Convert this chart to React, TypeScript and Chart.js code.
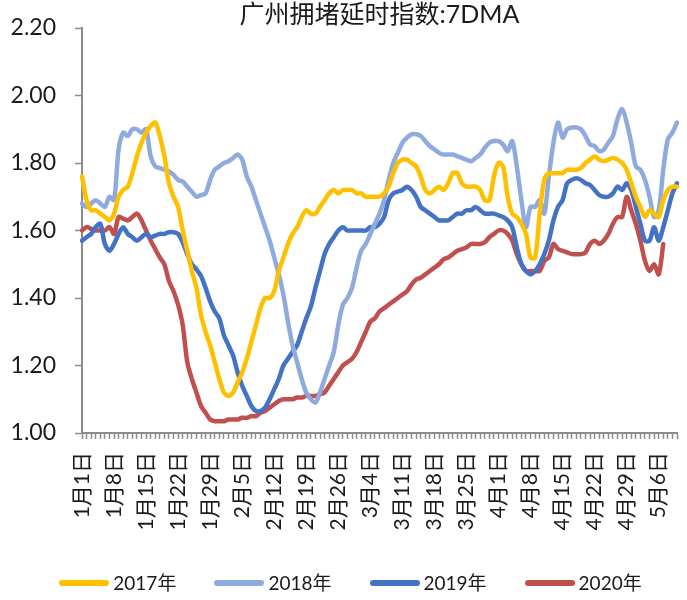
import React, { useEffect, useRef } from "react";
import { Chart, registerables } from "chart.js";

Chart.register(...registerables);

const TITLE = "广州拥堵延时指数:7DMA";
const MONTHS = [1, 2, 3, 4, 5];
const MONTH_LENGTHS = [31, 29, 31, 30, 10];
const SERIES_NAMES = ["2017年", "2018年", "2019年", "2020年"];
const SERIES_COLORS = ["#FFC000", "#8FAADC", "#4472C4", "#C0504D"];
const Y_TICKS = [1.0, 1.2, 1.4, 1.6, 1.8, 2.0, 2.2];

const categories: string[] = [];
MONTHS.forEach((m, k) => {
  for (let d = 1; d <= MONTH_LENGTHS[k]; d++) categories.push(`${m}月${d}日`);
});

const y2017 = [
  1.76, 1.69, 1.66, 1.66, 1.65, 1.64, 1.63, 1.65, 1.70, 1.72,
  1.73, 1.77, 1.82, 1.86, 1.89, 1.91, 1.92, 1.88, 1.82, 1.74,
  1.70, 1.67, 1.60, 1.54, 1.48, 1.43, 1.35, 1.30, 1.26, 1.21,
  1.16, 1.12, 1.11, 1.12, 1.15, 1.18, 1.22, 1.27, 1.32, 1.37,
  1.40, 1.40, 1.42, 1.48, 1.52, 1.56, 1.59, 1.61, 1.64, 1.66,
  1.65, 1.65, 1.67, 1.69, 1.71, 1.72, 1.71, 1.72, 1.72, 1.72,
  1.71, 1.71, 1.70, 1.70, 1.70, 1.70, 1.71, 1.73, 1.77, 1.80,
  1.81, 1.81, 1.80, 1.79, 1.76, 1.72, 1.71, 1.72, 1.73, 1.72,
  1.74, 1.77, 1.77, 1.74, 1.73, 1.73, 1.73, 1.72, 1.69, 1.69,
  1.76, 1.80, 1.79, 1.70, 1.65, 1.64, 1.62, 1.59, 1.52, 1.52,
  1.65, 1.75, 1.77, 1.77, 1.77, 1.77, 1.78, 1.78, 1.78, 1.785,
  1.80, 1.81, 1.82, 1.81, 1.805, 1.81, 1.815, 1.81, 1.80, 1.78,
  1.74, 1.70, 1.67, 1.64, 1.66, 1.65, 1.64, 1.69, 1.72, 1.73,
  1.73,
];

const y2018 = [
  1.68, 1.67, 1.68, 1.69, 1.68, 1.67, 1.70, 1.69, 1.84, 1.89,
  1.88, 1.90, 1.90, 1.89, 1.90, 1.82, 1.79, 1.785, 1.78, 1.775,
  1.765, 1.75, 1.745, 1.73, 1.715, 1.70, 1.705, 1.71, 1.75, 1.78,
  1.79, 1.80, 1.805, 1.815, 1.825, 1.81, 1.76, 1.73, 1.69, 1.65,
  1.61, 1.57, 1.52, 1.47, 1.41, 1.33, 1.26, 1.21, 1.16, 1.12,
  1.10, 1.09, 1.12, 1.16, 1.20, 1.24, 1.32, 1.38, 1.40, 1.43,
  1.49, 1.54, 1.56, 1.59, 1.62, 1.65, 1.69, 1.75, 1.80, 1.83,
  1.86, 1.875, 1.885, 1.885, 1.88, 1.865, 1.85, 1.84, 1.83, 1.825,
  1.825, 1.825, 1.82, 1.815, 1.81, 1.805, 1.815, 1.825, 1.845, 1.86,
  1.865, 1.865, 1.855, 1.835, 1.865, 1.79, 1.69, 1.61, 1.67, 1.67,
  1.69, 1.65, 1.76, 1.86, 1.92, 1.875, 1.90, 1.905, 1.905, 1.90,
  1.88, 1.855, 1.85, 1.835, 1.84, 1.86, 1.88, 1.93, 1.96, 1.92,
  1.86, 1.79, 1.78, 1.75, 1.70, 1.64, 1.66, 1.78, 1.87, 1.89,
  1.92,
];

const y2019 = [
  1.57, 1.58, 1.59, 1.61, 1.62, 1.56, 1.54, 1.56, 1.59, 1.61,
  1.59, 1.58, 1.57, 1.58, 1.59, 1.58, 1.585, 1.59, 1.59, 1.595,
  1.595, 1.59, 1.565, 1.53, 1.50, 1.485, 1.465, 1.43, 1.39, 1.36,
  1.34, 1.29, 1.26, 1.23, 1.18, 1.14, 1.11, 1.08, 1.065, 1.065,
  1.075, 1.10, 1.13, 1.16, 1.20, 1.22, 1.24, 1.26, 1.30, 1.34,
  1.375, 1.43, 1.48, 1.53, 1.56, 1.58, 1.60, 1.61, 1.60, 1.60,
  1.60, 1.60, 1.60, 1.61, 1.61, 1.62, 1.64, 1.69, 1.71, 1.715,
  1.72, 1.73, 1.72, 1.70, 1.67, 1.66, 1.65, 1.64, 1.63, 1.63,
  1.63, 1.64, 1.65, 1.65, 1.66, 1.66, 1.67, 1.66, 1.65, 1.65,
  1.65, 1.645, 1.64, 1.63, 1.61, 1.55, 1.50, 1.48, 1.47, 1.48,
  1.50, 1.53, 1.57, 1.63, 1.67, 1.69, 1.74, 1.75, 1.755, 1.75,
  1.74, 1.735, 1.72, 1.705, 1.70, 1.70, 1.71, 1.73, 1.72, 1.74,
  1.72, 1.67, 1.62, 1.57, 1.57, 1.61, 1.57, 1.61, 1.66, 1.71,
  1.74,
];

const y2020: (number | null)[] = [
  1.60, 1.61, 1.605, 1.60, 1.60, 1.60, 1.61, 1.59, 1.64, 1.635,
  1.63, 1.64, 1.65, 1.63, 1.60, 1.57, 1.545, 1.52, 1.50, 1.45,
  1.42, 1.38, 1.32, 1.21, 1.16, 1.12, 1.08, 1.06, 1.04, 1.035,
  1.035, 1.035, 1.04, 1.04, 1.04, 1.045, 1.045, 1.05, 1.05, 1.06,
  1.065, 1.075, 1.085, 1.095, 1.10, 1.10, 1.10, 1.105, 1.105, 1.11,
  1.11, 1.11, 1.115, 1.12, 1.14, 1.16, 1.18, 1.20, 1.21, 1.22,
  1.24, 1.27, 1.30, 1.33, 1.34, 1.36, 1.37, 1.38, 1.39, 1.40,
  1.41, 1.42, 1.44, 1.455, 1.46, 1.47, 1.48, 1.49, 1.50, 1.515,
  1.52, 1.53, 1.54, 1.545, 1.55, 1.56, 1.56, 1.56, 1.565, 1.58,
  1.59, 1.60, 1.60, 1.59, 1.57, 1.53, 1.50, 1.48, 1.48, 1.48,
  1.48, 1.51, 1.52, 1.56, 1.545, 1.54, 1.535, 1.53, 1.53, 1.53,
  1.535, 1.56, 1.57, 1.56, 1.57, 1.59, 1.62, 1.64, 1.64, 1.70,
  1.66, 1.62, 1.57, 1.51, 1.48, 1.50, 1.47, 1.56, null, null,
  null,
];

const SERIES = [y2017, y2018, y2019, y2020];

const FONT = "Lato, 'Noto Sans CJK SC', sans-serif";
const TEXT = "#1a1a1a";
const AXIS = "#8c8c8c";

const titlePlugin = {
  id: "centerTitle",
  afterDraw(chart: any) {
    const { ctx, chartArea } = chart;
    ctx.save();
    ctx.font = `25px ${FONT}`;
    ctx.fillStyle = TEXT;
    ctx.textAlign = "center";
    ctx.textBaseline = "middle";
    ctx.fillText(TITLE, (chartArea.left + chartArea.right) / 2, 15);
    ctx.restore();
  },
};

export default function App() {
  const ref = useRef<HTMLCanvasElement | null>(null);

  useEffect(() => {
    if (!ref.current) return;
    const chart = new Chart(ref.current, {
      type: "line",
      data: {
        labels: categories,
        datasets: SERIES.map((s, k) => ({
          label: SERIES_NAMES[k],
          data: s,
          borderColor: SERIES_COLORS[k],
          backgroundColor: SERIES_COLORS[k],
          borderWidth: 4.5,
          pointRadius: 0,
          pointHoverRadius: 0,
          tension: 0.3,
          borderCapStyle: "round",
          borderJoinStyle: "round",
          spanGaps: false,
        })),
      },
      options: {
        animation: false,
        responsive: true,
        maintainAspectRatio: false,
        layout: { padding: { left: 0, right: 10, top: 28, bottom: 0 } },
        plugins: {
          title: { display: false },
          tooltip: { enabled: false },
          legend: { display: false },
        },
        scales: {
          x: {
            offset: false,
            border: { color: AXIS, width: 2 },
            grid: {
              display: true,
              drawOnChartArea: false,
              drawTicks: true,
              tickLength: 6,
              tickColor: AXIS,
              tickWidth: 1.5,
            },
            afterFit: (scale: any) => {
              scale.paddingLeft = 0;
              scale.paddingRight = 0;
              scale.height = 167;
            },
            ticks: {
              autoSkip: false,
              minRotation: 90,
              maxRotation: 90,
              padding: 13,
              color: TEXT,
              font: { family: FONT, size: 21 },
              callback: (_v: any, i: number) => (i % 7 === 0 ? categories[i] : ""),
            },
          },
          y: {
            min: Y_TICKS[0],
            max: Y_TICKS[Y_TICKS.length - 1],
            border: { color: AXIS, width: 2 },
            grid: {
              display: true,
              drawOnChartArea: false,
              drawTicks: true,
              tickLength: 7,
              tickColor: AXIS,
              tickWidth: 1.5,
            },
            afterBuildTicks: (axis: any) => {
              axis.ticks = Y_TICKS.map((v) => ({ value: v }));
            },
            afterFit: (scale: any) => {
              scale.width = 82;
              scale.paddingTop = 0;
              scale.paddingBottom = 0;
            },
            ticks: {
              padding: 19,
              color: TEXT,
              font: { family: FONT, size: 23 },
              callback: (v: any) => Number(v).toFixed(2),
            },
          },
        },
      },
      plugins: [titlePlugin],
    });
    return () => chart.destroy();
  }, []);

  return (
    <div style={{ position: "absolute", left: 0, top: 0, width: 687, height: 600, background: "#fff" }}>
      <canvas ref={ref} />
      <div
        style={{
          position: "absolute",
          left: 0,
          top: 570,
          width: 687,
          paddingLeft: 14,
          boxSizing: "border-box",
          display: "flex",
          justifyContent: "center",
          alignItems: "center",
          gap: 38,
          fontFamily: FONT,
          fontSize: 19,
          lineHeight: "26px",
          color: TEXT,
        }}
      >
        {SERIES_NAMES.map((name, k) => (
          <span key={name} style={{ display: "inline-flex", alignItems: "center" }}>
            <span
              style={{
                display: "inline-block",
                width: 50,
                height: 6,
                borderRadius: 3,
                background: SERIES_COLORS[k],
                marginRight: 4,
              }}
            />
            {name}
          </span>
        ))}
      </div>
    </div>
  );
}
